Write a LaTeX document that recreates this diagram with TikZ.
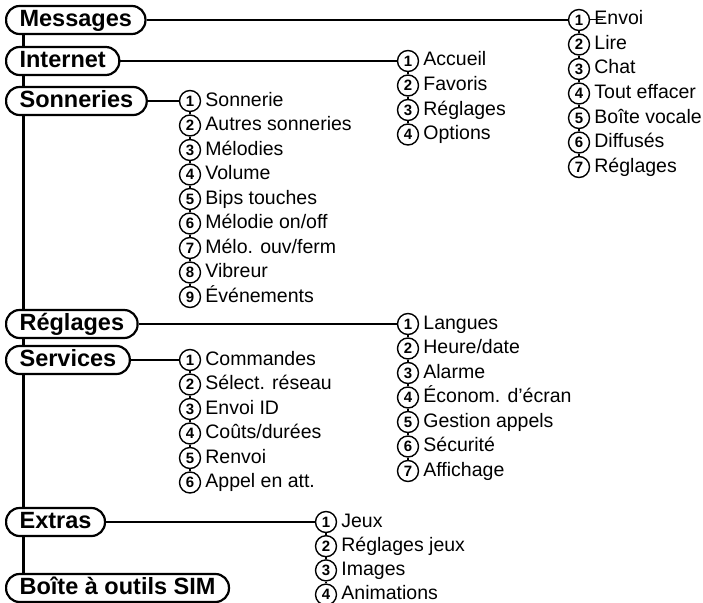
\documentclass[tikz,border=0pt]{standalone}
\usepackage{fontspec}
\setmainfont{Liberation Sans}
\usetikzlibrary{positioning}

\tikzset{
  menubox/.style={draw, fill=white, line width=2.2pt, rounded corners=13.5pt, minimum height=28pt,
    inner xsep=13.5pt, inner ysep=0pt, anchor=west, text height=17.5pt, text depth=5pt,
    font=\fontsize{23.5}{23.5}\selectfont\bfseries},
  num/.style={circle, draw, line width=1.4pt, fill=white, inner sep=0pt,
    minimum size=21pt, font=\fontsize{15}{15}\selectfont\bfseries},
  item/.style={inner sep=0pt, text height=14pt, text depth=4pt,
    font=\fontsize{19.5}{19.5}\selectfont},
  trunk/.style={line width=3pt},
  link/.style={line width=2.4pt},
  tie/.style={line width=2pt},
}

\begin{document}
\begin{tikzpicture}[x=1pt, y=-1pt]
  \useasboundingbox (0,0) rectangle (703,602);

  % main menu
  \node[menubox] (msg) at (5,20) {Messages};
  \node[menubox] (int) at (5,61) {Internet};
  \node[menubox] (son) at (5,101) {Sonneries};
  \node[menubox] (reg) at (5,324) {Réglages};
  \node[menubox] (ser) at (5,360) {Services};
  \node[menubox] (ext) at (5,522) {Extras};
  \node[menubox] (sim) at (5,588) {Boîte à outils SIM};

  \foreach \a/\b in {msg/int, int/son, son/reg, reg/ser, ser/ext, ext/sim}
    \draw[trunk] ([xshift=18pt]\a.south west) -- ([xshift=18pt]\b.north west);

  % Messages
  \foreach \t [count=\i] in {Envoi, Lire, Chat, Tout effacer, Boîte vocale, Diffusés, Réglages}
  {
    \node[num] (m\i) at (579, {20+24.5*(\i-1)}) {\i};
    \node[item, right=4pt of m\i] (mt\i) {\t};
  }
  \foreach \i [evaluate=\i as \j using int(\i+1)] in {1,...,6}
    \draw[tie] (m\i) -- (m\j);
  \draw[link] (msg) -- (m1);
  \draw[line width=1pt] (m1.east) -- ++(13pt,0);

  % Internet
  \foreach \t [count=\i] in {Accueil, Favoris, Réglages, Options}
  {
    \node[num] (i\i) at (408, {61+24.5*(\i-1)}) {\i};
    \node[item, right=4pt of i\i] (it\i) {\t};
  }
  \foreach \i [evaluate=\i as \j using int(\i+1)] in {1,...,3}
    \draw[tie] (i\i) -- (i\j);
  \draw[link] (int) -- (i1);

  % Sonneries
  \foreach \t [count=\i] in {Sonnerie, Autres sonneries, Mélodies, Volume, Bips touches,
    Mélodie on/off, Mélo. ouv/ferm, Vibreur, Événements}
  {
    \node[num] (s\i) at (190, {101+24.5*(\i-1)}) {\i};
    \node[item, right=4pt of s\i] (st\i) {\t};
  }
  \foreach \i [evaluate=\i as \j using int(\i+1)] in {1,...,8}
    \draw[tie] (s\i) -- (s\j);
  \draw[link] (son) -- (s1);

  % Réglages
  \foreach \t [count=\i] in {Langues, Heure/date, Alarme, Économ. d’écran, Gestion appels,
    Sécurité, Affichage}
  {
    \node[num] (r\i) at (408, {324+24.5*(\i-1)}) {\i};
    \node[item, right=4pt of r\i] (rt\i) {\t};
  }
  \foreach \i [evaluate=\i as \j using int(\i+1)] in {1,...,6}
    \draw[tie] (r\i) -- (r\j);
  \draw[link] (reg) -- (r1);

  % Services
  \foreach \t [count=\i] in {Commandes, Sélect. réseau, Envoi ID, Coûts/durées, Renvoi,
    Appel en att.}
  {
    \node[num] (v\i) at (190, {360+24.5*(\i-1)}) {\i};
    \node[item, right=4pt of v\i] (vt\i) {\t};
  }
  \foreach \i [evaluate=\i as \j using int(\i+1)] in {1,...,5}
    \draw[tie] (v\i) -- (v\j);
  \draw[link] (ser) -- (v1);

  % Extras
  \foreach \t [count=\i] in {Jeux, Réglages jeux, Images, Animations}
  {
    \node[num] (e\i) at (326, {522+24.2*(\i-1)}) {\i};
    \node[item, right=4pt of e\i] (et\i) {\t};
  }
  \foreach \i [evaluate=\i as \j using int(\i+1)] in {1,...,3}
    \draw[tie] (e\i) -- (e\j);
  \draw[link] (ext) -- (e1);
\end{tikzpicture}
\end{document}
